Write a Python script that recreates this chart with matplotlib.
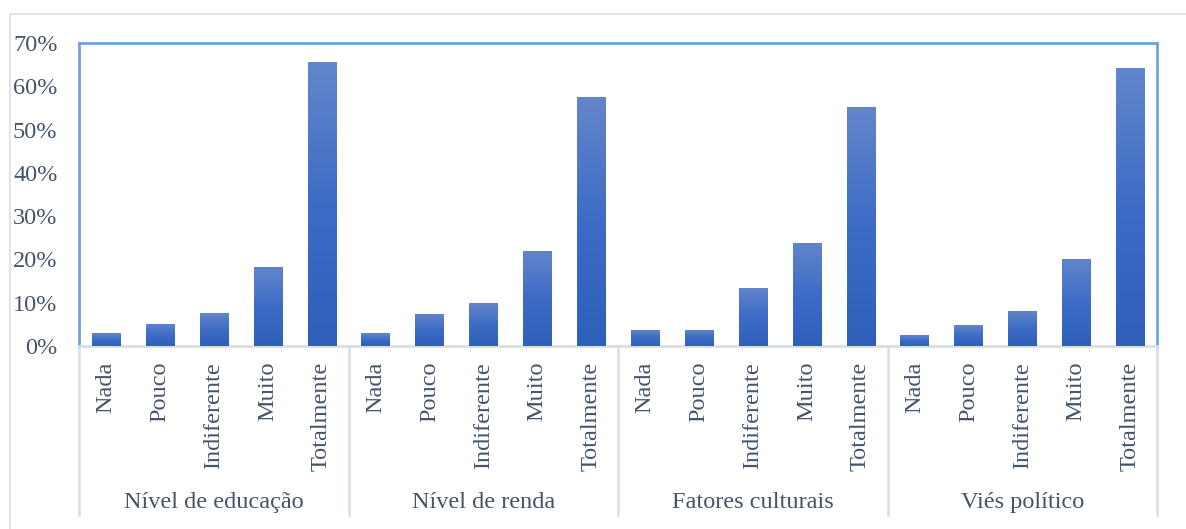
import matplotlib
matplotlib.use("Agg")
import matplotlib.pyplot as plt
import numpy as np
from matplotlib.colors import LinearSegmentedColormap
from matplotlib.patches import Rectangle
from matplotlib.lines import Line2D

groups = ["Nível de educação", "Nível de renda", "Fatores culturais", "Viés político"]
levels = ["Nada", "Pouco", "Indiferente", "Muito", "Totalmente"]
educacao = [3.0, 5.1, 7.6, 18.2, 65.6]
renda = [3.0, 7.4, 9.9, 22.0, 57.5]
culturais = [3.8, 3.8, 13.4, 23.8, 55.2]
politico = [2.5, 4.8, 8.1, 20.1, 64.2]
yticks = [0, 10, 20, 30, 40, 50, 60, 70]

series = [educacao, renda, culturais, politico]
values = [v for s in series for v in s]
labels = [l for _ in groups for l in levels]
x = np.arange(len(values))

text_color = "#44546a"
font = "Liberation Serif"
plt.rcParams["font.family"] = [font, "DejaVu Serif"]
FS = 17.5

W, H = 1186, 529
fig = plt.figure(figsize=(W / 100, H / 100), dpi=100)
ax = fig.add_axes([79 / W, (H - 346) / H, (1157 - 79) / W, (346 - 43) / H])

# outer chart border
fig.add_artist(Rectangle((10 / W, -0.1), 1.2, (H - 14) / H + 0.1, transform=fig.transFigure,
                         fill=False, edgecolor="#dde3ea", linewidth=1.3))

bars = ax.bar(x, values, width=0.52, color="#4472c4", zorder=2)
cmap = LinearSegmentedColormap.from_list("g", ["#2e60b9", "#3d6cc6", "#6386cb"])
grad = np.linspace(0, 1, 256).reshape(-1, 1)
for b in bars:
    bx, bw, bh = b.get_x(), b.get_width(), b.get_height()
    im = ax.imshow(grad, extent=[bx, bx + bw, 0, bh], origin="lower", aspect="auto",
                   cmap=cmap, zorder=3, interpolation="bicubic")
    im.set_clip_path(b)

ax.set_xlim(-0.5, len(values) - 0.5)
ax.set_ylim(0, 70)
ax.set_yticks(yticks)
ax.set_yticklabels([f"{t}%" for t in yticks], fontsize=FS, color=text_color)
ax.tick_params(axis="y", length=0, pad=15.5)
ax.set_xticks([])

frame_blue = "#6fa3db"
for side in ["left", "top", "right"]:
    ax.spines[side].set_color(frame_blue)
    ax.spines[side].set_linewidth(2)
ax.spines["bottom"].set_color("#d9dee6")
ax.spines["bottom"].set_linewidth(2)

trans = ax.get_xaxis_transform()
for xi, lab in zip(x, labels):
    ax.text(xi, -0.052, lab, rotation=90, ha="center", va="top", fontsize=FS,
            color=text_color, transform=trans)

for gi, g in enumerate(groups):
    ax.text(gi * 5 + 2, -0.515, g, ha="center", va="center", fontsize=FS,
            color=text_color, transform=trans)

for sx in [-0.5, 4.5, 9.5, 14.5, 19.5]:
    ax.add_line(Line2D([sx, sx], [0, -0.558], transform=trans, color="#d9dee6",
                       linewidth=1.8, clip_on=False, zorder=1))

fig.savefig("out.png", dpi=100)
